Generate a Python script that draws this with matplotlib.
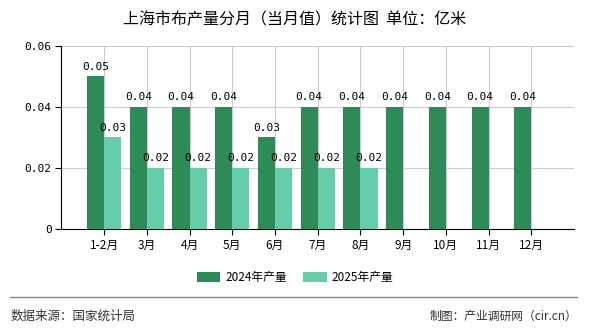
import numpy as np
import matplotlib
matplotlib.use('Agg')
import matplotlib.pyplot as plt
from matplotlib.lines import Line2D

plt.rcParams['font.family'] = ['Noto Sans CJK SC', 'DejaVu Sans']
mono = ['DejaVu Sans Mono', 'Noto Sans CJK SC']

#%% data
months = ['1-2月', '3月', '4月', '5月', '6月', '7月', '8月', '9月', '10月', '11月', '12月']
output_2024 = [0.05, 0.04, 0.04, 0.04, 0.03, 0.04, 0.04, 0.04, 0.04, 0.04, 0.04]
output_2025 = [0.03, 0.02, 0.02, 0.02, 0.02, 0.02, 0.02]

c2024 = '#2e8b57'
c2025 = '#66cdaa'

#%% plot
fig = plt.figure(figsize=(5.9, 3.3), dpi=100)
ax = fig.add_axes([0.104, 0.306, 0.869, 0.555])

x = np.arange(len(months))
w = 0.4
b1 = ax.bar(x[:len(output_2024)] - w/2, output_2024, w, color=c2024, zorder=3, label='2024年产量')
b2 = ax.bar(x[:len(output_2025)] + w/2, output_2025, w, color=c2025, zorder=3, label='2025年产量')

for rect, v in zip(b1, output_2024):
    ax.text(rect.get_x() + rect.get_width()/2, v + 0.0015, '%.2f' % v,
            ha='center', va='bottom', fontsize=8, family=mono, color='black')
for rect, v in zip(b2, output_2025):
    ax.text(rect.get_x() + rect.get_width()/2, v + 0.0015, '%.2f' % v,
            ha='center', va='bottom', fontsize=8, family=mono, color='black')

ax.set_xlim(-1, len(months))
ax.set_ylim(0, 0.06)
ax.set_yticks([0, 0.02, 0.04, 0.06])
ax.set_yticklabels(['0', '0.02', '0.04', '0.06'], fontsize=8, family=mono)
ax.set_xticks(x)
ax.set_xticklabels(months, fontsize=8.5)

# grid lines
for v in [0.02, 0.04, 0.06]:
    ax.axhline(v, color='#cccccc', lw=0.8, zorder=1)
for xi in list(x) + [len(months)]:
    ax.axvline(xi, color='#cccccc', lw=0.8, zorder=1)

for s in ['top', 'right']:
    ax.spines[s].set_visible(False)
ax.spines['left'].set_color('black')
ax.spines['bottom'].set_color('black')
ax.tick_params(axis='both', length=4, width=0.8, pad=3)

fig.text(0.5, 0.94, '上海市布产量分月（当月值）统计图  单位：亿米', ha='center', va='center',
         fontsize=11.5, fontweight='medium')

fig.legend(handles=[b1, b2], loc='center', bbox_to_anchor=(0.5, 0.16), ncol=2, frameon=False,
           fontsize=8.5, handlelength=2.0, handleheight=0.9, columnspacing=1.4, handletextpad=0.4)

fig.add_artist(Line2D([0.017, 0.978], [0.1, 0.1], color='#888888', lw=1))
fig.text(0.017, 0.042, '数据来源：国家统计局', ha='left', va='center', fontsize=9, color='#333333')
fig.text(0.978, 0.042, '制图：产业调研网（cir.cn）', ha='right', va='center', fontsize=8.5, color='#333333')

plt.savefig('out.png')
